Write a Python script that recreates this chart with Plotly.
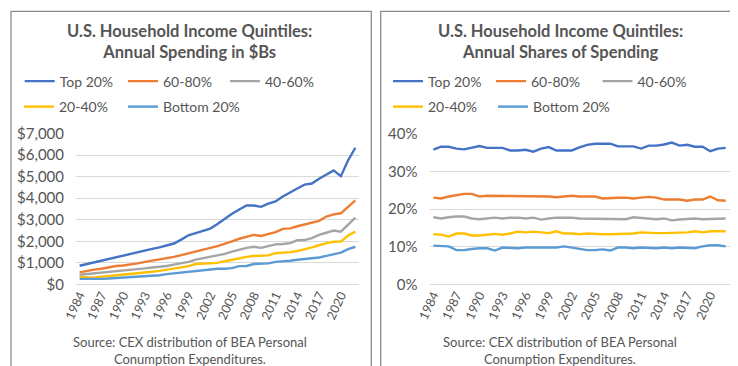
import plotly.graph_objects as go

years = list(range(1984, 2023))

# Annual spending ($B)
top20 = [870, 950, 1030, 1090, 1170, 1260, 1360, 1420, 1500, 1600, 1650, 1720, 1800, 1900, 2080, 2280,
         2380, 2480, 2590, 2800, 3050, 3280, 3480, 3660, 3660, 3600, 3750, 3850, 4080, 4250, 4450, 4630,
         4680, 4900, 5100, 5290, 5020, 5760, 6340]
q60_80 = [560, 630, 690, 730, 790, 860, 880, 920, 980, 1050, 1100, 1150, 1210, 1280, 1360, 1450,
          1550, 1640, 1700, 1780, 1880, 2000, 2120, 2200, 2300, 2250, 2340, 2430, 2580, 2600, 2700, 2780,
          2870, 2950, 3150, 3250, 3300, 3580, 3900]
q40_60 = [450, 480, 520, 560, 590, 620, 630, 660, 700, 750, 790, 820, 860, 920, 970, 1050,
          1150, 1220, 1280, 1330, 1420, 1520, 1620, 1700, 1750, 1700, 1780, 1860, 1880, 1920, 2050, 2060,
          2150, 2300, 2400, 2500, 2450, 2780, 3100]
q20_40 = [350, 330, 320, 360, 390, 420, 450, 470, 500, 550, 590, 630, 680, 720, 780, 850,
          950, 960, 1000, 1000, 1080, 1150, 1230, 1280, 1320, 1330, 1350, 1450, 1460, 1500, 1550, 1620,
          1720, 1820, 1920, 1980, 1990, 2270, 2450]
bottom20 = [260, 255, 250, 260, 280, 300, 330, 340, 350, 360, 400, 430, 480, 520, 560, 600,
            620, 670, 720, 730, 730, 760, 850, 860, 950, 950, 980, 1050, 1060, 1100, 1150, 1180,
            1220, 1250, 1330, 1420, 1480, 1640, 1750]

# Annual shares of spending (%)
s_top20 = [35.7, 36.5, 36.5, 36.0, 35.8, 36.3, 36.7, 36.2, 36.2, 36.2, 35.5, 35.5, 35.7, 35.2, 36.0, 36.4,
           35.5, 35.5, 35.5, 36.3, 37.0, 37.3, 37.3, 37.3, 36.6, 36.6, 36.6, 36.0, 36.8, 36.8, 37.1, 37.6,
           36.8, 37.0, 36.5, 36.5, 35.3, 36.0, 36.2]
s_60_80 = [23.0, 22.8, 23.3, 23.6, 24.0, 24.0, 23.3, 23.5, 23.5, 23.5, 23.5, 23.4, 23.3, 23.5, 23.3, 23.3,
           23.1, 23.4, 23.5, 23.3, 23.3, 23.3, 22.8, 23.0, 23.0, 23.0, 22.8, 23.0, 23.2, 23.0, 22.5, 22.5,
           22.5, 22.2, 22.5, 22.5, 23.3, 22.3, 22.2]
s_40_60 = [17.8, 17.5, 17.8, 18.0, 18.0, 17.5, 17.3, 17.5, 17.7, 17.5, 17.7, 17.7, 17.5, 17.7, 17.2, 17.5,
           17.7, 17.7, 17.7, 17.5, 17.5, 17.3, 17.5, 17.5, 17.5, 17.3, 17.8, 17.6, 17.3, 17.3, 17.5, 17.0,
           17.2, 17.3, 17.5, 17.3, 17.3, 17.3, 17.5]
s_20_40 = [13.3, 13.2, 12.7, 13.5, 13.5, 13.0, 13.0, 13.2, 13.4, 13.2, 13.5, 14.0, 13.8, 14.0, 13.8, 13.6,
           14.1, 13.5, 13.5, 13.3, 13.5, 13.3, 13.3, 13.3, 13.3, 13.5, 13.5, 13.8, 13.6, 13.6, 13.6, 13.6,
           13.8, 13.8, 14.1, 13.8, 14.1, 14.1, 14.1]
s_bottom20 = [10.3, 10.1, 10.1, 9.1, 9.1, 9.4, 9.6, 9.6, 9.0, 9.8, 9.6, 9.6, 9.8, 9.8, 9.8, 9.6,
              9.8, 10.1, 9.8, 9.6, 9.1, 9.1, 9.3, 9.0, 9.8, 9.8, 9.6, 9.8, 9.6, 9.6, 9.8, 9.6,
              9.8, 9.6, 9.6, 10.1, 10.4, 10.4, 10.1]

names = ["Top 20%", "60-80%", "40-60%", "20-40%", "Bottom 20%"]
colors = ["#4472C4", "#ED7D31", "#A5A5A5", "#FFC000", "#5B9BD5"]
tick_years = list(range(1984, 2021, 3))

W, H = 738, 366
FONT = "Lato"
TXT = "#555555"

def px(x):
    return x / W

def py(y):
    return 1 - y / H

# one legend per entry so that every entry sits where the reference has it
# (text start x, row centre y)
left_leg_pos = [(51.7, 73.5), (155, 73.5), (257, 73.5), (51, 99), (155, 99)]
right_leg_pos = [(420, 73.5), (523, 73.5), (629.5, 73.5), (420, 99), (525, 99)]

fig = go.Figure()
left_series = [top20, q60_80, q40_60, q20_40, bottom20]
right_series = [s_top20, s_60_80, s_40_60, s_20_40, s_bottom20]
legcommon = dict(orientation="h", font=dict(family=FONT, size=14, color=TXT), bgcolor="rgba(0,0,0,0)",
                 xanchor="left", yanchor="middle", itemwidth=30)
leg_layout = {}
k = 0
for series, pos, xa, ya in [(left_series, left_leg_pos, "x", "y"), (right_series, right_leg_pos, "x2", "y2")]:
    for n, c, v, (tx, ty) in zip(names, colors, series, pos):
        k += 1
        lname = "legend" if k == 1 else "legend%d" % k
        fig.add_trace(go.Scatter(x=years, y=v, name=n, mode="lines", line=dict(color=c, width=2.4),
                                 xaxis=xa, yaxis=ya, legend=lname))
        leg_layout[lname] = dict(x=px(tx - 40), y=py(ty), **legcommon)

xcommon = dict(range=[1983.5, 2022.5], tickvals=tick_years, ticktext=[str(t) for t in tick_years],
               tickangle=-65, tickfont=dict(family=FONT, size=12.5, color=TXT), showgrid=False,
               zeroline=False, showline=False, ticks="", fixedrange=True)
ycommon = dict(showgrid=True, gridcolor="#D9D9D9", gridwidth=1, zeroline=True, zerolinecolor="#D9D9D9",
               zerolinewidth=1, showline=False, ticks="", ticklabelstandoff=11,
               tickfont=dict(family=FONT, size=15, color=TXT))

fig.update_layout(
    width=W, height=H, margin=dict(l=0, r=0, t=0, b=0, autoexpand=False),
    paper_bgcolor="white", plot_bgcolor="white",
    xaxis=dict(domain=[px(68), px(351)], anchor="y", **xcommon),
    yaxis=dict(domain=[py(276.5), py(125.5)], anchor="x", range=[0, 7000], dtick=1000,
               tickprefix="$", tickformat=",.0f", **ycommon),
    xaxis2=dict(domain=[px(421.5), px(721.5)], anchor="y2", **xcommon),
    yaxis2=dict(domain=[py(276.5), py(125.5)], anchor="x2", range=[0, 40], dtick=10,
                ticksuffix="%", **ycommon),
    showlegend=True,
    **leg_layout,
)

titles = ["U.S. Household Income Quintiles:<br>Annual Spending in $Bs",
          "U.S. Household Income Quintiles:<br>Annual Shares of Spending"]
centers = [181.5, 552]
for t, cx in zip(titles, centers):
    fig.add_annotation(text="<b>" + t + "</b>", x=px(cx), y=py(33.5), xref="paper", yref="paper",
                       xanchor="center", yanchor="middle", showarrow=False,
                       font=dict(family=FONT, size=16.5, color=TXT), align="center")
    fig.add_annotation(text="Source: CEX distribution of BEA Personal<br>Conumption Expenditures.",
                       x=px(cx), y=py(342), xref="paper", yref="paper", xanchor="center",
                       yanchor="middle", showarrow=False, font=dict(family=FONT, size=13, color=TXT),
                       align="center")

for x0, x1 in [(3, 363.3), (372.7, 733.7)]:
    fig.add_shape(type="rect", xref="paper", yref="paper", x0=px(x0), x1=px(x1), y0=py(361),
                  y1=py(3.3), line=dict(color="#8C8C8C", width=1.3), fillcolor="rgba(0,0,0,0)")

fig.write_html("out.html")
